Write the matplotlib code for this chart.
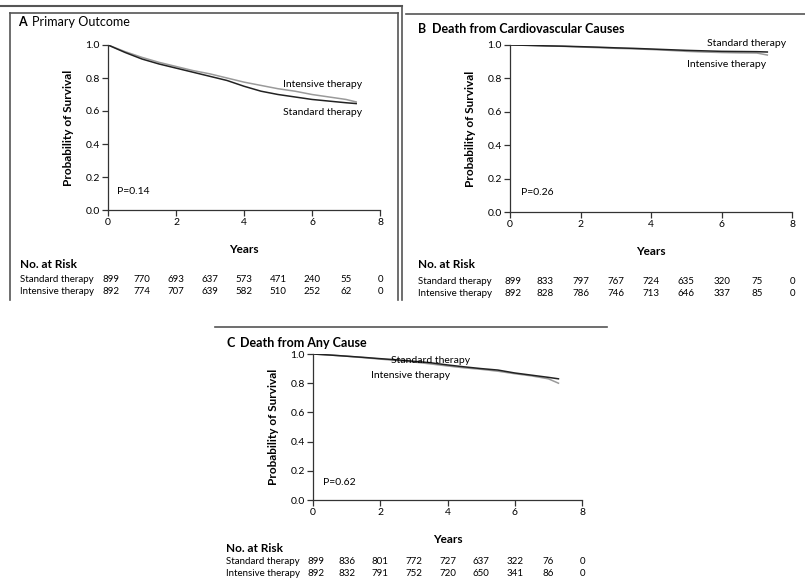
import matplotlib
matplotlib.use('Agg')
import matplotlib.pyplot as plt
from matplotlib.transforms import blended_transform_factory
from matplotlib.lines import Line2D

plt.rcParams['font.family'] = ['Lato', 'DejaVu Sans']

# ------- datos -------

years = [0, 0.5, 1, 1.5, 2, 2.5, 3, 3.5, 4, 4.5, 5, 5.5, 6, 6.5, 7, 7.3]

# A: resultado primario
a_standard = [1.0, 0.955, 0.915, 0.885, 0.86, 0.835, 0.81, 0.785, 0.75, 0.72, 0.70, 0.685, 0.67, 0.66, 0.65, 0.645]
a_intensive = [1.0, 0.96, 0.925, 0.895, 0.87, 0.845, 0.825, 0.80, 0.775, 0.755, 0.735, 0.72, 0.70, 0.685, 0.67, 0.655]

# B: muerte cardiovascular
b_standard = [1.0, 0.998, 0.995, 0.993, 0.99, 0.987, 0.983, 0.98, 0.976, 0.972, 0.968, 0.965, 0.962, 0.961, 0.96, 0.958]
b_intensive = [1.0, 0.998, 0.995, 0.992, 0.988, 0.984, 0.98, 0.977, 0.973, 0.968, 0.962, 0.958, 0.955, 0.953, 0.952, 0.94]

# C: muerte por cualquier causa
c_standard = [1.0, 0.993, 0.985, 0.977, 0.968, 0.96, 0.95, 0.94, 0.925, 0.912, 0.90, 0.89, 0.87, 0.855, 0.84, 0.83]
c_intensive = [1.0, 0.993, 0.985, 0.975, 0.965, 0.955, 0.945, 0.932, 0.918, 0.905, 0.895, 0.882, 0.865, 0.85, 0.83, 0.80]

risk_years = [0, 1, 2, 3, 4, 5, 6, 7, 8]
a_risk_standard = [899, 770, 693, 637, 573, 471, 240, 55, 0]
a_risk_intensive = [892, 774, 707, 639, 582, 510, 252, 62, 0]
b_risk_standard = [899, 833, 797, 767, 724, 635, 320, 75, 0]
b_risk_intensive = [892, 828, 786, 746, 713, 646, 337, 85, 0]
c_risk_standard = [899, 836, 801, 772, 727, 637, 322, 76, 0]
c_risk_intensive = [892, 832, 791, 752, 720, 650, 341, 86, 0]

W, H = 805, 587
fig = plt.figure(figsize=(W / 100, H / 100), dpi=100)


def px(x, y):
    # pixeles de la imagen -> fraccion de figura
    return x / W, 1 - y / H


def panel(left, top, right, bottom, letter, title, title_bold, t_std, t_int,
          risk_std, risk_int, pval, lab_std, lab_int, title_xy, risk_x, risk_y):
    x0, y1 = px(left, top)
    x1, y0 = px(right, bottom)
    ax = fig.add_axes([x0, y0, x1 - x0, y1 - y0])
    ax.plot(years, t_int, color='#9a9a9a', lw=1.1)
    ax.plot(years, t_std, color='#222222', lw=1.1)
    ax.set_xlim(0, 8)
    ax.set_ylim(0, 1)
    ax.set_xticks([0, 2, 4, 6, 8])
    ax.set_yticks([0, 0.2, 0.4, 0.6, 0.8, 1.0])
    ax.set_yticklabels(['0.0', '0.2', '0.4', '0.6', '0.8', '1.0'])
    for s in ['top', 'right']:
        ax.spines[s].set_visible(False)
    for s in ['left', 'bottom']:
        ax.spines[s].set_color('#333333')
        ax.spines[s].set_linewidth(0.9)
    ax.tick_params(direction='out', length=4, width=0.9, labelsize=7.5, color='#333333', pad=2)
    ax.set_xlabel('Years', fontsize=8.5, fontweight='bold', labelpad=12)
    ax.set_ylabel('Probability of Survival', fontsize=8.5, fontweight='bold', labelpad=8)
    ax.text(pval[0], pval[1], pval[2], fontsize=7.5)
    ax.text(lab_std[0], lab_std[1], 'Standard therapy', fontsize=7.5, ha='center', va='center', clip_on=False)
    ax.text(lab_int[0], lab_int[1], 'Intensive therapy', fontsize=7.5, ha='center', va='center', clip_on=False)

    # titulo del panel
    tx, ty = px(*title_xy)
    fig.text(tx, ty, letter, fontsize=9, fontweight='bold', va='center')
    fig.text(tx + 14 / W, ty, title, fontsize=9, fontweight='bold' if title_bold else 'normal', va='center')

    # tabla de numero en riesgo
    rx, _ = px(risk_x, 0)
    fig.text(rx, px(0, risk_y[0])[1], 'No. at Risk', fontsize=8.5, fontweight='bold', va='center')
    fig.text(rx, px(0, risk_y[1])[1], 'Standard therapy', fontsize=7, va='center')
    fig.text(rx, px(0, risk_y[2])[1], 'Intensive therapy', fontsize=7, va='center')
    trans = blended_transform_factory(ax.transData, fig.transFigure)
    for yr, ns, ni in zip(risk_years, risk_std, risk_int):
        xx = yr + 0.08 if yr == 0 else yr
        fig.text(xx, px(0, risk_y[1])[1], str(ns), fontsize=7, ha='center', va='center', transform=trans)
        fig.text(xx, px(0, risk_y[2])[1], str(ni), fontsize=7, ha='center', va='center', transform=trans)
    return ax


panel(108, 45, 380, 210, 'A', 'Primary Outcome', False, a_standard, a_intensive,
      a_risk_standard, a_risk_intensive, (0.26, 0.10, 'P=0.14'),
      (6.3, 0.59), (6.3, 0.76), (18, 22), 20, (265, 280, 292))

panel(510, 45, 792, 212, 'B', 'Death from Cardiovascular Causes', True, b_standard, b_intensive,
      b_risk_standard, b_risk_intensive, (0.3, 0.10, 'P=0.26'),
      (6.7, 1.01), (6.15, 0.886), (418, 29), 418, (265, 281, 293))

panel(313, 354, 582, 500, 'C', 'Death from Any Cause', True, c_standard, c_intensive,
      c_risk_standard, c_risk_intensive, (0.3, 0.10, 'P=0.62'),
      (3.5, 0.955), (2.9, 0.85), (226, 343), 226, (549, 562, 574))


# lineas de marco
def fline(xs, ys, lw=1.2, color='#555555'):
    fx = [x / W for x in xs]
    fy = [1 - y / H for y in ys]
    fig.add_artist(Line2D(fx, fy, lw=lw, color=color, transform=fig.transFigure))


fline([0, 402], [6, 6], lw=1.5)
fline([10, 10], [300, 13])
fline([10, 398], [13, 13])
fline([398, 398], [13, 300])
fline([402, 402], [6, 300])
fline([406, 805], [14, 14])
fline([215, 607], [327, 327])

fig.savefig('out.png', dpi=100)
